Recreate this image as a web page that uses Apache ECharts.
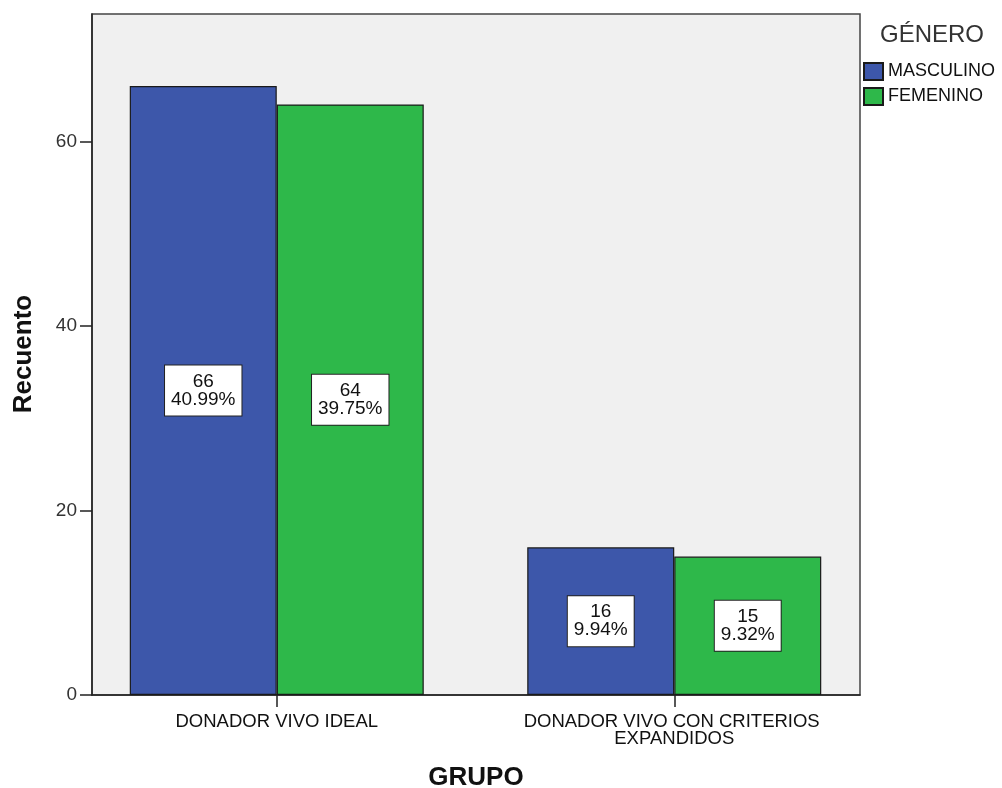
<!DOCTYPE html>
<html>
<head>
<meta charset="utf-8">
<script src="https://cdn.jsdelivr.net/npm/echarts@6/dist/echarts.min.js"></script>
<style>html,body{margin:0;padding:0;background:#fff}#c{width:1002px;height:788px}</style>
</head>
<body>
<div id="c"></div>
<script>
const categories = ['DONADOR VIVO IDEAL', 'DONADOR VIVO CON CRITERIOS EXPANDIDOS'];
const masculino = [66, 16];
const femenino = [64, 15];
const masculinoPct = ['40.99%', '9.94%'];
const femeninoPct = ['39.75%', '9.32%'];
const yTicks = [0, 20, 40, 60];

const FONT = '"Liberation Sans", Arial, sans-serif';
const YMAX = 73.8;
const chart = echarts.init(document.getElementById('c'), null, {renderer: 'canvas'});

function lbl(pcts, vals) {
  return {
    show: true,
    position: 'inside',
    formatter: p => vals[p.dataIndex] + '\n' + pcts[p.dataIndex],
    backgroundColor: '#ffffff',
    borderColor: '#222',
    borderWidth: 1,
    padding: [7, 6, 7, 6],
    color: '#111',
    fontFamily: FONT,
    fontSize: 19,
    lineHeight: 18,
    align: 'center'
  };
}

chart.setOption({
  animation: false,
  backgroundColor: '#ffffff',
  grid: [
    {left: 92, top: 14, width: 768, height: 681, show: true, backgroundColor: '#F0F0F0', borderColor: '#444', borderWidth: 1.5, containLabel: false},
    {left: 78, top: 14, width: 795, height: 681, show: false, containLabel: false}
  ],
  xAxis: [
    {gridIndex: 0, type: 'value', min: 0, max: 1, axisLine: {show: true, onZero: false, lineStyle: {color: '#222', width: 1.5}}, axisTick: {show: false}, axisLabel: {show: false}, splitLine: {show: false}},
    {gridIndex: 1, type: 'category', data: categories, boundaryGap: true,
     axisLine: {show: false}, axisTick: {show: true, alignWithLabel: true, length: 12, lineStyle: {color: '#222', width: 1.5}},
     axisLabel: {margin: 18, color: '#111', fontFamily: FONT, fontSize: 18.5, lineHeight: 17, width: 320, overflow: 'break', interval: 0},
     splitLine: {show: false}}
  ],
  yAxis: [
    {gridIndex: 0, type: 'value', min: 0, max: YMAX,
     axisLine: {show: true, lineStyle: {color: '#222', width: 1.5}},
     axisTick: {show: true, length: 12, customValues: yTicks, lineStyle: {color: '#222', width: 1.5}},
     axisLabel: {customValues: yTicks, margin: 15, color: '#333', fontFamily: FONT, fontSize: 19},
     splitLine: {show: false}},
    {gridIndex: 1, type: 'value', min: 0, max: YMAX, show: false, splitLine: {show: false}}
  ],
  legend: {
    orient: 'vertical', left: 858, top: 57, itemWidth: 19, itemHeight: 17, itemGap: 6,
    icon: 'rect',
    textStyle: {fontFamily: FONT, fontSize: 18, color: '#111'},
    data: ['MASCULINO', 'FEMENINO']
  },
  series: [
    {name: 'MASCULINO', type: 'bar', xAxisIndex: 1, yAxisIndex: 1, data: masculino, barWidth: 147, barGap: '0%',
     itemStyle: {color: '#3D57AA', borderColor: '#1a1a1a', borderWidth: 1.2}, label: lbl(masculinoPct, masculino)},
    {name: 'FEMENINO', type: 'bar', xAxisIndex: 1, yAxisIndex: 1, data: femenino, barWidth: 147, barGap: '0%',
     itemStyle: {color: '#2EB84A', borderColor: '#1a1a1a', borderWidth: 1.2}, label: lbl(femeninoPct, femenino)}
  ],
  graphic: [
    {type: 'text', left: 880, top: 23, style: {text: 'GÉNERO', fontFamily: FONT, fontSize: 24, fill: '#333'}},
    {type: 'text', x: 24, y: 354, rotation: Math.PI / 2, style: {text: 'Recuento', fontFamily: FONT, fontSize: 26, fontWeight: 'bold', fill: '#111', align: 'center', verticalAlign: 'middle'}},
    {type: 'text', x: 476, y: 778, style: {text: 'GRUPO', fontFamily: FONT, fontSize: 26, fontWeight: 'bold', fill: '#111', align: 'center', verticalAlign: 'middle'}}
  ]
});
</script>
</body>
</html>
